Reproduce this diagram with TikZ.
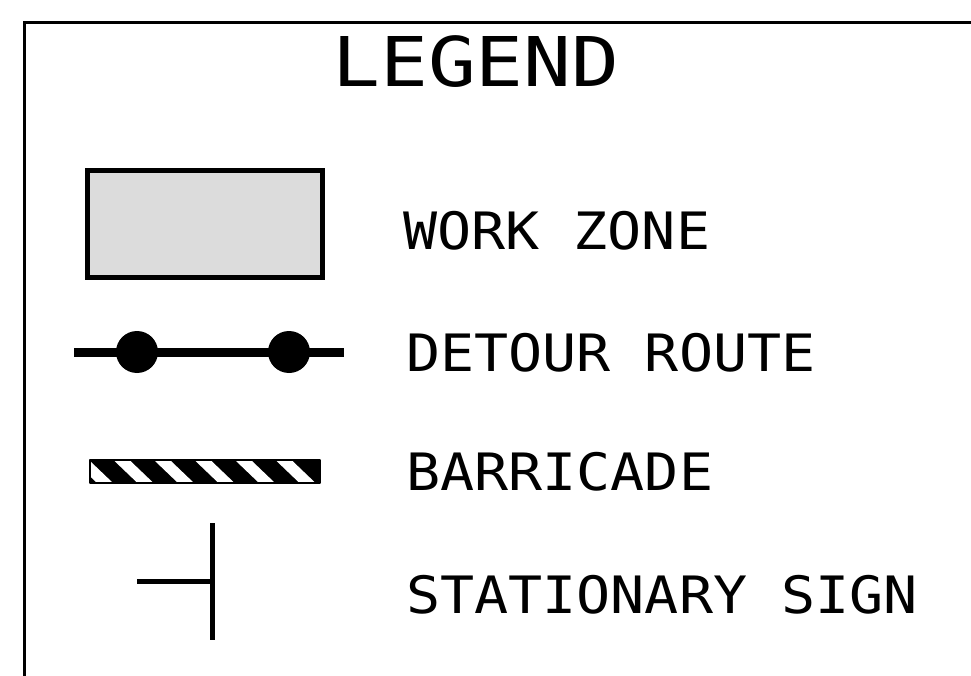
\documentclass[tikz,border=0pt]{standalone}
\usepackage{fontspec}
\newfontfamily\legendfont[FakeStretch=1.1]{DejaVu Sans Mono}
\newfontfamily\titlefont[FakeStretch=1.16]{DejaVu Sans Mono}
\definecolor{zonegray}{HTML}{DCDCDC}
\tikzset{legendlabel/.style={anchor=base west,inner sep=0pt,font=\legendfont\fontsize{51.5}{60}\selectfont}}

\begin{document}
\begin{tikzpicture}[x=1pt,y=-1pt]
    \useasboundingbox (0,0) rectangle (971,676);
    \fill[white] (0,0) rectangle (971,676);
    % frame (cut off at right and bottom)
    \draw[line width=3pt] (24,676) -- (24,22.5) -- (971,22.5);
    \node[legendlabel,font=\titlefont\fontsize{68.6}{80}\selectfont] (title) at (332,87) {LEGEND};
    % work zone
    \draw[line width=5pt,fill=zonegray] (87.5,170.5) rectangle (322.5,277.5);
    \node[legendlabel] (workzone) at (403,250) {WORK ZONE};
    % detour route
    \draw[line width=9pt] (74,352) -- (344,352);
    \fill (137,352) circle(21);
    \fill (289,352) circle(21);
    \node[legendlabel] (detour) at (406,371) {DETOUR ROUTE};
    % barricade
    \fill (90,460) rectangle (320,483);
    \begin{scope}
      \clip (90,460) rectangle (320,483);
      \foreach \k in {0,...,5}
        \fill[white] ({74+40.5*\k},461) -- ({90+40.5*\k},461) -- ({113+40.5*\k},483) -- ({97+40.5*\k},483) -- cycle;
    \end{scope}
    \draw[line width=1.5pt,line join=round] (90,460) rectangle (320,483);
    \node[legendlabel] (barricade) at (406,490) {BARRICADE};
    % stationary sign
    \draw[line width=5pt] (212,523) -- (212,640);
    \draw[line width=5pt] (137,581) -- (212,581);
    \node[legendlabel] (sign) at (406,613) {STATIONARY SIGN};
\end{tikzpicture}
\end{document}
